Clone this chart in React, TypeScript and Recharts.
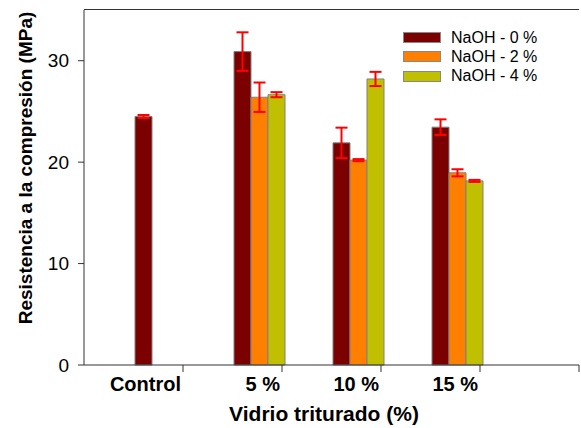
import React from "react"
import { BarChart, Bar, XAxis, YAxis, ErrorBar, Label } from "recharts"

// Vidrio triturado groups (last slot is left empty, as in the original figure)
const categories = ["Control", "5 %", "10 %", "15 %", ""]

// Resistencia a la compresión (MPa)
const naoh0 = [24.5, 30.9, 21.9, 23.45, null]
const naoh2 = [null, 26.4, 20.2, 18.95, null]
const naoh4 = [null, 26.65, 28.2, 18.15, null]

// standard deviations
const err0 = [0.15, 1.9, 1.5, 0.77, null]
const err2 = [null, 1.45, 0.1, 0.35, null]
const err4 = [null, 0.25, 0.7, 0.1, null]

const seriesNames = ["NaOH - 0 %", "NaOH - 2 %", "NaOH - 4 %"]
const yTicks = [0, 10, 20, 30]
const yMax = 35

const colors = ["#7B0000", "#FF8000", "#C0C000"]
const font = "'Liberation Sans', Arial, sans-serif"

const data = categories.map((cat, i) => ({
  cat,
  n0: naoh0[i],
  n2: naoh2[i],
  n4: naoh4[i],
  e0: err0[i],
  e2: err2[i],
  e4: err4[i],
}))

const HALF_BAND = 49.5

const XTick = (props: any) => {
  const { x, y, payload } = props
  const tx = x + HALF_BAND
  return (
    <g>
      <line x1={tx} y1={y} x2={tx} y2={y + 7} stroke="#333" strokeWidth={1} />
      <text x={tx - 2} y={y + 26} textAnchor="end" fontFamily={font} fontWeight="bold" fontSize={20} fill="#000">
        {payload.value}
      </text>
    </g>
  )
}

const LegendBox = () => (
  <div style={{ position: "absolute", left: 403, top: 28, fontFamily: font, fontSize: 16, color: "#000" }}>
    {seriesNames.map((name, i) => (
      <div key={name} style={{ display: "flex", alignItems: "center", height: 19.3 }}>
        <div style={{ width: 36, height: 9, background: colors[i], border: "1px solid #888", marginRight: 10 }} />
        <span>{name}</span>
      </div>
    ))}
  </div>
)

export default function App() {
  return (
    <div style={{ position: "absolute", left: 0, top: 0, width: 581, height: 428, background: "#fff" }}>
      <BarChart
        width={581}
        height={428}
        data={data}
        margin={{ top: 10, right: 2, left: 24, bottom: 0 }}
        barCategoryGap={0}
        barGap={0}
      >
        <XAxis
          dataKey="cat"
          height={63}
          tickLine={false}
          tickSize={0}
          tickMargin={0}
          tick={<XTick />}
          axisLine={{ stroke: "#333" }}
          interval={0}
        >
          <Label
            content={() => (
              <text x={324} y={421} textAnchor="middle" fontFamily={font} fontWeight="bold" fontSize={21} fill="#000">
                Vidrio triturado (%)
              </text>
            )}
          />
        </XAxis>
        <YAxis
          domain={[0, yMax]}
          ticks={yTicks}
          width={60}
          tickSize={6}
          tickMargin={9}
          tickLine={{ stroke: "#333" }}
          axisLine={{ stroke: "#333" }}
          tick={{ fontFamily: font, fontSize: 19, fill: "#000" }}
        >
          <Label
            content={() => (
              <text
                x={25}
                y={168}
                transform="rotate(-90, 25, 168)"
                textAnchor="middle"
                dominantBaseline="central"
                fontFamily={font}
                fontWeight="bold"
                fontSize={19}
                fill="#000"
              >
                Resistencia a la compresión (MPa)
              </text>
            )}
          />
        </YAxis>
        <YAxis yAxisId="right" orientation="right" domain={[0, yMax]} width={0} tick={false} tickLine={false} axisLine={{ stroke: "#333" }} />
        {/* empty slots keep the real bars in the right half of each band */}
        <Bar dataKey="pad1" fill="none" legendType="none" isAnimationActive={false} />
        <Bar dataKey="pad2" fill="none" legendType="none" isAnimationActive={false} />
        <Bar dataKey="pad3" fill="none" legendType="none" isAnimationActive={false} />
        <Bar dataKey="n0" name={seriesNames[0]} fill={colors[0]} stroke="#808080" strokeWidth={1} isAnimationActive={false}>
          <ErrorBar dataKey="e0" width={6} stroke="#FF0000" strokeWidth={2} direction="y" />
        </Bar>
        <Bar dataKey="n2" name={seriesNames[1]} fill={colors[1]} stroke="#808080" strokeWidth={1} isAnimationActive={false}>
          <ErrorBar dataKey="e2" width={6} stroke="#FF0000" strokeWidth={2} direction="y" />
        </Bar>
        <Bar dataKey="n4" name={seriesNames[2]} fill={colors[2]} stroke="#808080" strokeWidth={1} isAnimationActive={false}>
          <ErrorBar dataKey="e4" width={6} stroke="#FF0000" strokeWidth={2} direction="y" />
        </Bar>
      </BarChart>
      {/* top edge of the plot frame */}
      <div style={{ position: "absolute", left: 84, top: 9, width: 495, height: 1, background: "#333", zIndex: 10 }} />
      <LegendBox />
    </div>
  )
}
